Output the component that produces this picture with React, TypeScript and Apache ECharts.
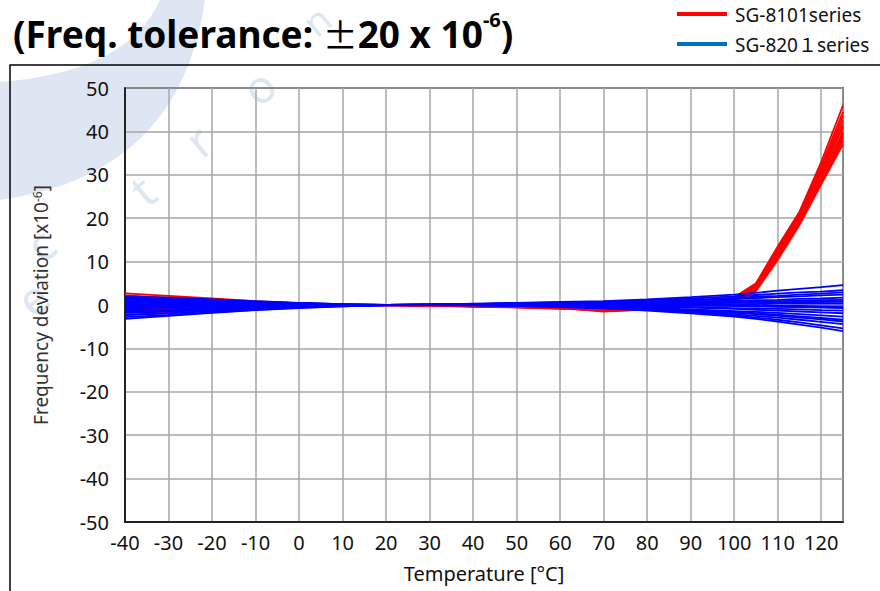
import React, { useEffect, useRef } from "react";
import * as echarts from "echarts";

// Temperatures (°C) at which each sample was measured
const TEMPS = [-40, -30, -20, -10, 0, 10, 20, 30, 40, 50, 60, 70, 80, 90, 100, 105, 110, 115, 120, 125];

// SG-8101 series samples (frequency deviation, x10^-6)
const RED_CURVES: number[][] = [
  [2.7, 2.1, 1.5, 0.9, 0.4, 0.1, 0.0, -0.1, -0.2, -0.3, -0.5, -0.7, -0.4, 0.4, 1.8, 5.0, 13.5, 21.5, 33.0, 46.0],
  [2.2, 1.7, 1.2, 0.7, 0.3, 0.1, 0.0, -0.1, -0.2, -0.4, -0.6, -0.8, -0.5, 0.3, 1.6, 4.6, 12.8, 20.8, 31.5, 43.5],
  [1.5, 1.2, 0.9, 0.5, 0.2, 0.0, 0.0, -0.1, -0.3, -0.4, -0.7, -0.9, -0.6, 0.2, 1.4, 4.3, 12.2, 20.2, 30.5, 41.5],
  [0.8, 0.7, 0.5, 0.3, 0.1, 0.0, 0.0, -0.1, -0.3, -0.5, -0.8, -1.0, -0.7, 0.1, 1.2, 3.9, 11.6, 19.6, 29.5, 40.0],
  [0.2, 0.2, 0.2, 0.1, 0.0, 0.0, 0.0, -0.1, -0.3, -0.5, -0.8, -1.1, -0.8, 0.0, 1.0, 3.5, 11.0, 19.0, 28.5, 38.5],
  [-0.5, -0.3, -0.2, -0.1, 0.0, 0.0, 0.0, -0.2, -0.4, -0.6, -0.9, -1.2, -0.9, -0.1, 0.8, 3.2, 10.4, 18.4, 27.8, 37.0],
  [-1.2, -0.9, -0.6, -0.4, -0.2, -0.1, 0.0, -0.1, -0.3, -0.5, -0.8, -1.3, -1.0, -0.2, 0.9, 3.4, 10.8, 18.8, 28.2, 37.8],
  [-1.8, -1.4, -1.0, -0.6, -0.3, -0.1, 0.0, -0.1, -0.2, -0.4, -0.7, -1.4, -1.1, -0.1, 1.1, 3.8, 11.4, 19.4, 29.2, 39.5],
  [-2.3, -1.8, -1.3, -0.8, -0.4, -0.1, 0.0, -0.1, -0.2, -0.3, -0.6, -1.5, -1.0, 0.0, 1.3, 4.1, 12.0, 20.0, 30.2, 41.0],
  [1.0, 0.8, 0.6, 0.4, 0.2, 0.1, 0.0, -0.1, -0.2, -0.3, -0.5, -0.9, -0.5, 0.2, 1.5, 4.4, 12.5, 20.5, 31.0, 42.5],
  [-0.8, -0.6, -0.4, -0.3, -0.1, 0.0, 0.0, -0.1, -0.2, -0.4, -0.6, -1.0, -0.7, 0.1, 1.7, 4.8, 13.2, 21.2, 32.2, 44.5],
  [0.5, 0.4, 0.3, 0.2, 0.1, 0.0, 0.0, -0.1, -0.2, -0.3, -0.6, -1.1, -0.6, 0.1, 1.3, 4.0, 11.8, 19.8, 29.8, 39.0],
];

// SG-8201 series samples (frequency deviation, x10^-6)
const BLUE_CURVES: number[][] = [
  [1.8, 1.5, 1.1, 0.7, 0.4, 0.1, -0.1, 0.1, 0.3, 0.5, 0.7, 0.9, 1.3, 1.8, 2.4, 2.8, 3.3, 3.7, 4.1, 4.6],
  [1.2, 1.1, 0.9, 0.6, 0.3, 0.1, -0.1, 0.0, 0.2, 0.4, 0.6, 0.8, 1.1, 1.5, 2.0, 2.3, 2.6, 2.9, 3.1, 3.4],
  [0.8, 0.8, 0.7, 0.5, 0.3, 0.1, 0.0, 0.1, 0.2, 0.4, 0.5, 0.6, 0.8, 1.1, 1.4, 1.6, 1.8, 2.0, 2.2, 2.4],
  [0.3, 0.4, 0.4, 0.3, 0.2, 0.0, 0.0, 0.1, 0.2, 0.3, 0.4, 0.5, 0.6, 0.8, 1.0, 1.1, 1.2, 1.4, 1.5, 1.7],
  [-0.2, 0.1, 0.2, 0.2, 0.1, 0.0, 0.0, 0.1, 0.2, 0.3, 0.3, 0.4, 0.5, 0.6, 0.7, 0.8, 0.9, 1.0, 1.1, 1.2],
  [-0.8, -0.5, -0.3, -0.1, 0.0, 0.0, 0.0, 0.1, 0.2, 0.2, 0.3, 0.3, 0.3, 0.4, 0.5, 0.5, 0.6, 0.6, 0.7, 0.8],
  [-1.3, -1.1, -0.8, -0.5, -0.3, -0.1, 0.0, 0.1, 0.2, 0.2, 0.2, 0.2, 0.2, 0.2, 0.2, 0.2, 0.3, 0.3, 0.3, 0.3],
  [-1.8, -1.5, -1.1, -0.7, -0.4, -0.2, 0.0, 0.1, 0.1, 0.1, 0.1, 0.0, -0.1, -0.2, -0.2, -0.3, -0.3, -0.4, -0.4, -0.5],
  [-2.3, -1.9, -1.4, -0.9, -0.5, -0.2, 0.0, 0.1, 0.1, 0.1, 0.0, -0.1, -0.3, -0.5, -0.7, -0.8, -0.9, -1.0, -1.2, -1.3],
  [-3.2, -2.5, -1.8, -1.2, -0.7, -0.3, 0.0, 0.1, 0.1, 0.0, -0.2, -0.4, -0.7, -1.0, -1.4, -1.6, -1.8, -2.1, -2.4, -2.7],
  [1.5, 1.3, 1.0, 0.7, 0.4, 0.2, 0.0, 0.0, 0.1, 0.2, 0.2, 0.2, 0.1, 0.0, -0.2, -0.3, -0.4, -0.5, -0.6, -0.7],
  [0.5, 0.5, 0.5, 0.4, 0.3, 0.1, 0.0, 0.0, 0.0, 0.0, 0.0, -0.1, -0.3, -0.6, -0.9, -1.1, -1.3, -1.5, -1.7, -1.9],
  [-0.5, -0.4, -0.3, -0.2, -0.1, 0.0, 0.0, 0.0, 0.0, -0.1, -0.2, -0.4, -0.7, -1.1, -1.6, -1.9, -2.2, -2.6, -3.0, -3.4],
  [-1.0, -0.9, -0.7, -0.5, -0.3, -0.1, 0.0, 0.0, 0.0, -0.1, -0.3, -0.6, -1.0, -1.5, -2.1, -2.5, -2.9, -3.4, -3.9, -4.4],
  [0.0, 0.2, 0.3, 0.2, 0.1, 0.0, 0.0, 0.0, -0.1, -0.2, -0.4, -0.7, -1.1, -1.7, -2.4, -2.9, -3.4, -4.0, -4.7, -5.4],
  [-1.5, -1.3, -1.0, -0.7, -0.4, -0.2, 0.0, 0.0, -0.1, -0.2, -0.5, -0.8, -1.3, -1.9, -2.7, -3.2, -3.8, -4.5, -5.2, -6.0],
  [1.0, 0.9, 0.8, 0.6, 0.4, 0.2, 0.0, 0.1, 0.2, 0.3, 0.4, 0.4, 0.5, 0.5, 0.6, 0.6, 0.6, 0.7, 0.7, 0.8],
  [-0.3, -0.2, -0.1, 0.0, 0.0, 0.0, 0.0, 0.1, 0.1, 0.2, 0.2, 0.2, 0.1, 0.0, -0.1, -0.1, -0.2, -0.2, -0.3, -0.3],
  [2.0, 1.7, 1.3, 0.9, 0.5, 0.2, 0.0, 0.0, 0.1, 0.2, 0.3, 0.5, 0.8, 1.2, 1.6, 1.9, 2.1, 2.4, 2.6, 2.9],
  [-2.8, -2.3, -1.7, -1.1, -0.6, -0.3, 0.0, 0.0, 0.0, -0.1, -0.3, -0.5, -0.9, -1.3, -1.8, -2.1, -2.5, -2.9, -3.3, -3.8],
];

const LEGEND_NAMES = ["SG-8101series", "SG-820１series"];
const TITLE_MAIN = "(Freq. tolerance: ";
const TITLE_PM = "±";
const TITLE_NUM = "20 x 10";
const TITLE_EXP = "-6";

const FONT = "'Noto Sans', 'Open Sans', sans-serif";

echarts.graphic.registerShape(
  "wmArc",
  echarts.graphic.extendPath("M205,0 Q180,175 0,200 L0,82 Q128,72 160,0 Z", {})
);

export default function App() {
  const ref = useRef<HTMLDivElement>(null);
  useEffect(() => {
    if (!ref.current) return;
    const chart = echarts.init(ref.current, null, { renderer: "svg" });

    const toData = (vals: number[]) => TEMPS.map((t, i) => [t, vals[i]]);
    const series: any[] = [];
    RED_CURVES.forEach((c, i) =>
      series.push({
        type: "line",
        name: LEGEND_NAMES[0] + " " + (i + 1),
        data: toData(c),
        symbol: "none",
        lineStyle: { color: "#FF0000", width: 1.8 },
        z: 2,
      })
    );
    BLUE_CURVES.forEach((c, i) =>
      series.push({
        type: "line",
        name: LEGEND_NAMES[1] + " " + (i + 1),
        data: toData(c),
        symbol: "none",
        lineStyle: { color: "#0000FF", width: 1.8 },
        z: 3,
      })
    );

    const wmColor = "#dfe6f3";
    const letters = [
      { ch: "e", x: 32, y: 298, s: 46 },
      { ch: "c", x: 40, y: 244, s: 46 },
      { ch: "t", x: 142, y: 190, s: 46 },
      { ch: "r", x: 198, y: 140, s: 46 },
      { ch: "o", x: 258, y: 86, s: 46 },
      { ch: "n", x: 316, y: 20, s: 38 },
    ];

    chart.setOption({
      animation: false,
      backgroundColor: "#ffffff",
      graphic: [
        { type: "wmArc", x: 0, y: 0, z: -10, silent: true, style: { fill: wmColor } },
        ...letters.map((l) => ({
          type: "text",
          x: l.x,
          y: l.y,
          rotation: (40 * Math.PI) / 180,
          z: -10,
          silent: true,
          style: {
            text: l.ch,
            fill: wmColor,
            font: `${l.s}px 'Noto Sans', sans-serif`,
            align: "center",
            verticalAlign: "middle",
          },
        })),
        {
          type: "rect",
          shape: { x: 10, y: 65, width: 900, height: 600 },
          style: { fill: "none", stroke: "#000", lineWidth: 1.5 },
          z: -5,
        },
        {
          type: "text",
          left: 13,
          top: 9,
          style: {
            text: `{a|${TITLE_MAIN}}{p|${TITLE_PM}}{a|${TITLE_NUM}}{s|${TITLE_EXP}}{a|)}`,
            rich: {
              a: { fontSize: 37, fontWeight: "bold", fontFamily: FONT, fill: "#000", lineHeight: 48 },
              p: { fontSize: 35, fontWeight: "normal", fontFamily: "'Noto Sans CJK JP', sans-serif", fill: "#000", lineHeight: 48 },
              s: { fontSize: 20, fontWeight: "bold", fontFamily: FONT, fill: "#000", verticalAlign: "top", lineHeight: 36 },
            },
          },
        },
        {
          type: "line",
          shape: { x1: 677, y1: 14, x2: 727, y2: 14 },
          style: { stroke: "#FF0000", lineWidth: 4 },
        },
        {
          type: "text",
          x: 735,
          y: 15,
          style: { text: LEGEND_NAMES[0], font: "19px " + FONT, fill: "#111", verticalAlign: "middle" },
        },
        {
          type: "line",
          shape: { x1: 677, y1: 44, x2: 727, y2: 44 },
          style: { stroke: "#0070C0", lineWidth: 4 },
        },
        {
          type: "text",
          x: 735,
          y: 45,
          style: {
            text: LEGEND_NAMES[1],
            font: "19px 'Noto Sans', 'Noto Sans CJK JP', sans-serif",
            fill: "#111",
            verticalAlign: "middle",
          },
        },
      ],
      grid: {
        left: 125,
        top: 88,
        right: 37,
        bottom: 69,
        show: true,
        borderColor: "#000",
        borderWidth: 1.5,
        backgroundColor: "transparent",
      },
      xAxis: {
        type: "value",
        min: -40,
        max: 125,
        interval: 10,
        name: "Temperature [°C]",
        nameLocation: "middle",
        nameGap: 41,
        nameTextStyle: { fontSize: 20, fontFamily: FONT, color: "#111" },
        axisLine: { show: true, onZero: false, lineStyle: { color: "#000", width: 1.5 } },
        axisTick: { show: false },
        axisLabel: { fontSize: 20, fontFamily: FONT, color: "#111", margin: 10, showMaxLabel: false },
        splitLine: { show: true, lineStyle: { color: "#A6A6A6", width: 1.5 } },
      },
      yAxis: {
        type: "value",
        min: -50,
        max: 50,
        interval: 10,
        name: "{n|Frequency deviation [x10}{s|-6}{n|]}",
        nameLocation: "middle",
        nameGap: 75,
        nameRotate: 90,
        nameTextStyle: {
          rich: {
            n: { fontSize: 19, fontFamily: FONT, color: "#333" },
            s: { fontSize: 12, fontFamily: FONT, color: "#333", verticalAlign: "top" },
          },
        },
        axisLine: { show: true, onZero: false, lineStyle: { color: "#000", width: 1.5 } },
        axisTick: { show: false },
        axisLabel: { fontSize: 20, fontFamily: FONT, color: "#111", margin: 16 },
        splitLine: { show: true, lineStyle: { color: "#A6A6A6", width: 1.5 } },
      },
      series,
    });
    return () => chart.dispose();
  }, []);
  return (
    <div
      ref={ref}
      style={{ position: "fixed", left: 0, top: 0, width: 880, height: 591, background: "#fff" }}
    />
  );
}
